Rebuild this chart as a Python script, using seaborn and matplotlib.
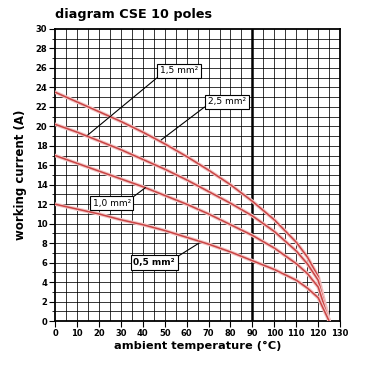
import numpy as np
import pandas as pd
import matplotlib
matplotlib.use("Agg")
import matplotlib.pyplot as plt
import matplotlib.patheffects as pe
import seaborn as sns

# temperature points (°C)
temps = [0, 10, 20, 30, 40, 50, 60, 70, 80, 90, 100, 110, 115, 120, 125]

# working current (A) per cross section
i_25 = [23.5, 22.5, 21.5, 20.5, 19.4, 18.2, 16.9, 15.5, 14.0, 12.3, 10.4, 8.1, 6.6, 4.6, 0]
i_15 = [20.2, 19.4, 18.5, 17.6, 16.6, 15.6, 14.5, 13.3, 12.1, 10.8, 9.2, 7.2, 5.9, 4.2, 0]
i_10 = [17.0, 16.2, 15.4, 14.6, 13.8, 12.9, 12.0, 11.0, 9.9, 8.8, 7.5, 5.9, 4.9, 3.5, 0]
i_05 = [12.0, 11.5, 11.0, 10.4, 9.9, 9.3, 8.6, 7.9, 7.1, 6.2, 5.3, 4.2, 3.4, 2.4, 0]

sections = ["2,5 mm²", "1,5 mm²", "1,0 mm²", "0,5 mm²"]

df = pd.DataFrame({
    "temp": temps * 4,
    "current": i_25 + i_15 + i_10 + i_05,
    "section": np.repeat(sections, len(temps)),
})

sns.set_style("white")
plt.rcParams["font.family"] = ["DejaVu Sans"]
plt.rcParams["text.color"] = "black"
plt.rcParams["axes.labelcolor"] = "black"
plt.rcParams["xtick.color"] = "black"
plt.rcParams["ytick.color"] = "black"

fig = plt.figure(figsize=(3.8, 3.8), dpi=100)
ax = fig.add_axes([0.145, 0.155, 0.75, 0.769])

# grid
for x in range(5, 130, 5):
    ax.axvline(x, color="black", lw=1.8 if x == 90 else 0.55, zorder=1)
for y in range(1, 30):
    ax.axhline(y, color="black", lw=0.55, zorder=1)

sns.lineplot(data=df, x="temp", y="current", hue="section",
             palette=["#c94444"] * 4, lw=1.1, legend=False, ax=ax,
             zorder=3)
for line in ax.get_lines()[-4:]:
    line.set_path_effects([pe.Stroke(linewidth=2.6, foreground="#f3c6c6"), pe.Normal()])

# labels with leader lines
notes = [
    ("1,5 mm²", (56.6, 25.7), (14.9, 19.1), (0, 0)),
    ("2,5 mm²", (78.3, 22.5), (48.4, 18.6), (0, 0.2)),
    ("1,0 mm²", (25.8, 12.1), (41.2, 13.7), (1, 1)),
    ("0,5 mm²", (45.2, 6.0), (65.6, 8.0), (1, 1)),
]
for txt, xytext, xy, rp in notes:
    ax.annotate(txt, xy=xy, xytext=xytext, ha="center", va="center",
                fontsize=6.5, zorder=5,
                fontweight="bold" if txt == "0,5 mm²" else "normal",
                bbox=dict(boxstyle="square,pad=0.3", fc="white", ec="black", lw=0.8),
                arrowprops=dict(arrowstyle="-", color="black", lw=0.8,
                                relpos=rp, shrinkA=0, shrinkB=0))

ax.set_xlim(0, 130)
ax.set_ylim(0, 30)
ax.set_xticks(range(0, 131, 10))
ax.set_yticks(range(0, 31, 2))
ax.set_yticks(range(0, 31, 1), minor=True)
ax.tick_params(axis="both", which="major", labelsize=6, length=4, width=0.8,
               direction="out", pad=1.5)
ax.tick_params(axis="y", which="minor", length=2, width=0.6, direction="out", left=True)
ax.tick_params(axis="x", bottom=True)
ax.tick_params(axis="y", left=True)
for lab in ax.get_xticklabels() + ax.get_yticklabels():
    lab.set_fontweight("bold")

for s in ax.spines.values():
    s.set_color("black")
    s.set_linewidth(1.3)

ax.set_xlabel("ambient temperature (°C)", fontsize=8.2, fontweight="bold", labelpad=2)
ax.set_ylabel("working current (A)", fontsize=8.5, fontweight="bold", labelpad=6)
fig.text(0.145, 0.962, "diagram CSE 10 poles", fontsize=9.2, fontweight="bold",
         ha="left", va="center")

fig.savefig("out.png", dpi=100)
